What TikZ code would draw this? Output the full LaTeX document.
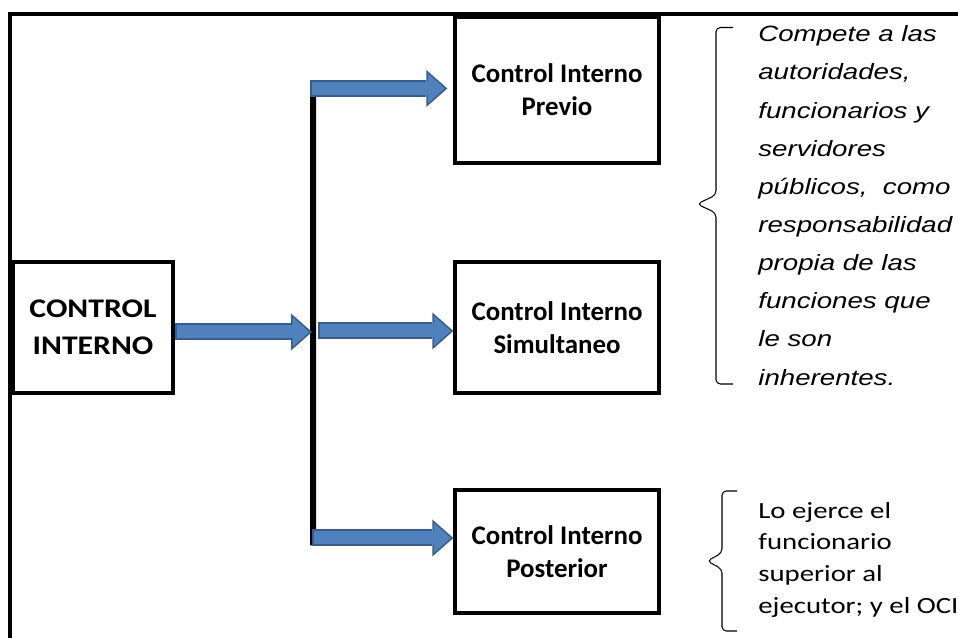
\documentclass[tikz,border=0pt]{standalone}
\usepackage{fontspec}
\usepackage{tikz}
\usetikzlibrary{arrows.meta, calc, positioning}
\definecolor{arrowblue}{RGB}{79, 129, 189}
\definecolor{arrowedge}{RGB}{56, 93, 138}
\newfontfamily\boxfont{Carlito}
\newfontfamily\wideboxfont[FakeStretch=1.18]{Carlito}
\newfontfamily\notefont[FakeStretch=1.25]{Liberation Sans}
\newfontfamily\plainnotefont[FakeStretch=1.24]{Carlito}

\begin{document}
\begin{tikzpicture}[
    ctrlbox/.style={rectangle, draw, line width=1.9pt, minimum width=4.08cm, align=center, inner sep=0pt,
                    font=\boxfont\bfseries\fontsize{15.3}{18.7}\selectfont},
    blockarrow/.style={arrowblue, line width=0.26cm, shorten >=0.05cm, shorten <=0.04cm,
                    -{Triangle[length=0.34cm, width=0.6cm, line width=0pt]},
                    preaction={draw=arrowedge, line width=0.34cm, shorten >=0cm, shorten <=0cm,
                    -{Triangle[length=0.42cm, width=0.74cm, line width=0pt]}}},
    note/.style={anchor=west, align=left, inner sep=0pt},
    bracket/.style={line width=0.6pt, rounded corners=2.5pt}
]
\useasboundingbox (0,0) rectangle (19.16,12.76);

% Frame
\draw[line width=1.9pt] (0.2,-0.2) |- (19.4,12.48);

% Main box
\node[ctrlbox, minimum width=3.2cm, minimum height=2.62cm,
      font=\wideboxfont\bfseries\fontsize{15.3}{21}\selectfont] (ci) at (1.86,6.21) {CONTROL\\INTERNO};

% Kinds of control
\node[ctrlbox, minimum height=2.92cm] (previo) at (11.14,10.96) {Control Interno\\Previo};
\node[ctrlbox, minimum height=2.62cm] (simul) at (11.14,6.21) {Control Interno\\Simultaneo};
\node[ctrlbox, minimum height=2.46cm] (poster) at (11.14,1.73) {Control Interno\\Posterior};

% Splitting bar
\coordinate (j0) at (6.24,6.12);
\coordinate (j1) at (6.2,10.99);
\coordinate (j2) at (6.36,6.14);
\coordinate (j3) at (6.24,2.0);
\draw[line width=0.12cm] ($(j1)+(0.06,-0.1)$) -- ($(j3)+(0.02,-0.15)$);

% Arrows
\draw[blockarrow] (ci.east |- j0) -- (j0);
\draw[blockarrow] (j1) -- ([xshift=-0.12cm]j1 -| previo.west);
\draw[blockarrow] (j2) -- (j2 -| simul.west);
\draw[blockarrow] (j3) -- (j3 -| poster.west);

% Notes
\node[note, font=\notefont\itshape\fontsize{12.6}{21.7}\selectfont] (note1) at (15.16,8.65)
    {Compete a las\\autoridades,\\funcionarios y\\servidores\\públicos,~ como\\responsabilidad\\propia de las\\funciones que\\le son\\inherentes.};
\node[note, font=\plainnotefont\fontsize{13.2}{18}\selectfont] (note2) at (15.16,1.57)
    {Lo ejerce el\\funcionario\\superior al\\ejecutor; y el OCI};

% Braces
\coordinate (tip1) at ($(note1.west)+(-1.22,0.03)$);
\draw[bracket] ($(tip1)+(0.72,3.53)$) -| ($(tip1)+(0.38,0.18)$) -- (tip1) -- ($(tip1)+(0.38,-0.18)$) |- ($(tip1)+(0.72,-3.6)$);
\coordinate (tip2) at ($(note2.west)+(-1.02,-0.03)$);
\draw[bracket] ($(tip2)+(0.6,1.4)$) -| ($(tip2)+(0.3,0.16)$) -- (tip2) -- ($(tip2)+(0.3,-0.16)$) |- ($(tip2)+(0.6,-1.4)$);

\end{tikzpicture}
\end{document}
